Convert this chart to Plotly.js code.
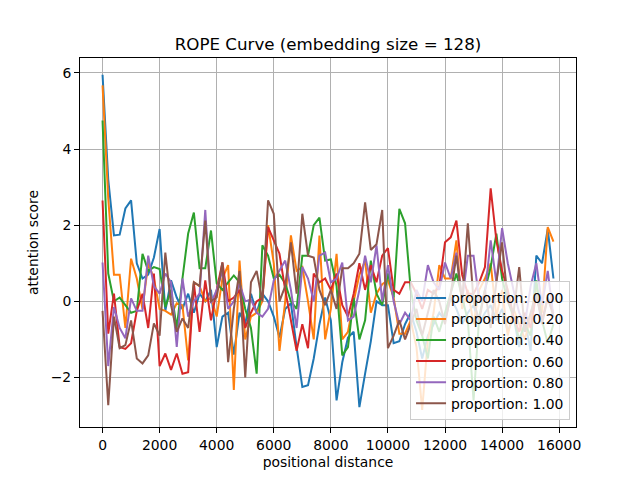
<!DOCTYPE html>
<html>
<head>
<meta charset="utf-8">
<script src="https://cdn.plot.ly/plotly-3.0.1.min.js"></script>
<style>html,body{margin:0;padding:0;background:#fff;}#chart{width:640px;height:480px;}</style>
</head>
<body>
<div id="chart"></div>
<script>
const positions = Array.from({length: 80}, (_, i) => i * 200);
const seriesNames = ["proportion: 0.00","proportion: 0.20","proportion: 0.40","proportion: 0.60","proportion: 0.80","proportion: 1.00"];
const seriesColors = ["#1f77b4","#ff7f0e","#2ca02c","#d62728","#9467bd","#8c564b"];

const p000 = [5.95,3.2,1.73,1.75,2.44,2.65,1.0,0.6,0.7,1.15,1.9,-0.25,0.55,0.1,-0.2,0.2,-0.3,0.2,0.0,0.3,
  -1.2,-0.4,-0.3,-1.4,-0.3,-0.6,0.2,-0.3,0.2,0.0,-0.4,-0.95,-0.2,-0.05,-1.2,-2.25,-2.2,-1.5,-0.6,0.1,
  -0.5,-2.6,-1.6,-0.95,-0.8,-2.78,-1.9,-1.05,0.0,-0.1,-0.1,-1.1,-1.05,-0.6,-0.3,-0.8,-1.5,-0.9,-0.6,-0.3,
  -0.5,0.1,-0.2,-0.6,-0.3,-0.1,-0.6,-0.3,-0.1,-0.5,-0.2,-0.8,-0.4,-1.2,-0.5,-1.3,1.2,1.0,1.9,0.6];
const p020 = [5.67,2.7,0.7,0.7,-0.7,1.12,0.6,-0.2,1.0,0.6,-0.2,-0.25,-0.35,-0.05,-0.1,-1.55,0.5,0.4,0.0,0.1,
  -0.4,0.6,0.95,-2.33,1.07,-1.0,-0.4,-0.3,0.0,2.0,1.0,-1.3,0.0,1.73,0.8,0.9,0.0,-1.0,1.73,-1.0,
  -0.2,1.25,-1.0,-0.8,0.0,0.7,1.07,-0.3,0.2,0.45,0.55,0.1,-0.85,-0.85,-0.5,-1.2,-2.85,-1.0,-0.3,0.95,
  0.6,0.6,1.6,-0.2,0.3,-0.6,0.3,0.6,1.0,-0.4,0.3,-0.9,-0.2,-0.6,-1.0,-0.4,0.4,-0.3,1.95,1.57];
const p040 = [4.75,0.73,0.0,0.1,-0.1,-0.3,-0.25,1.25,0.8,0.9,0.85,-0.15,0.3,-0.7,0.6,1.78,2.33,0.87,0.87,1.86,
  0.47,0.3,0.5,0.68,0.5,-0.2,-0.7,-1.9,1.47,1.2,0.6,0.7,0.47,0.0,-0.2,1.2,1.2,2.0,2.2,1.07,
  1.1,0.4,-1.42,-1.2,0.1,-1.0,-0.5,1.07,0.2,-0.1,0.73,0.1,2.43,2.05,0.3,-0.5,-0.9,-1.5,-0.4,-0.8,
  -0.3,0.2,0.73,0.1,-0.5,-2.6,-0.4,0.3,0.9,1.78,0.6,0.0,-0.4,-1.0,-0.6,-0.9,0.55,-0.5,-1.1,-0.6];
const p060 = [2.65,-0.85,0.2,-1.2,-1.25,-1.1,-0.25,0.2,-0.7,0.73,-1.7,-1.37,-1.8,-1.37,-1.9,-1.86,0.47,-0.8,0.55,-0.5,
  0.3,1.02,0.0,0.1,0.3,-0.7,-0.3,0.0,0.1,1.95,1.6,1.25,0.3,-0.5,-1.3,-0.6,-1.23,0.73,0.5,0.6,
  0.3,0.73,-0.1,-0.4,0.2,1.0,0.3,0.95,0.5,1.2,1.4,0.3,0.2,0.5,0.5,0.2,-0.2,0.3,0.2,0.4,
  1.55,1.68,2.12,0.7,0.2,0.2,0.5,0.9,2.97,1.6,0.8,0.3,-0.4,-0.8,-0.3,-0.7,0.2,-0.5,0.1,-0.3];
const p080 = [1.02,-1.7,-0.15,-0.7,-0.97,0.08,-0.25,-0.25,1.2,0.4,0.2,0.73,0.5,-1.2,0.6,-0.4,0.0,0.2,2.4,-0.05,
  0.3,0.8,-0.2,0.0,0.47,0.0,0.05,-0.3,-0.4,-0.2,0.55,0.8,1.07,0.3,-0.7,0.9,0.6,0.0,1.2,1.28,
  0.5,0.6,1.02,-0.5,-0.4,0.3,1.2,0.5,1.47,0.0,0.95,0.0,-0.6,-0.3,-0.5,0.3,0.0,0.95,0.5,0.3,
  1.02,0.6,1.28,0.0,1.2,1.2,0.0,0.2,1.6,0.5,1.92,1.0,0.3,-0.3,-0.6,0.4,1.0,-0.1,0.8,-0.4];
const p100 = [-0.25,-2.73,-0.4,-1.23,-1.15,-0.5,-1.5,-1.63,-1.42,-0.58,-0.9,1.28,-0.1,-0.8,-0.45,-0.7,0.5,0.4,2.12,0.0,
  0.1,1.02,-1.6,-0.2,0.8,-2.0,0.5,0.8,0.0,2.65,2.3,0.0,0.4,1.55,0.2,2.3,1.2,1.15,0.3,-0.1,
  0.3,-0.2,0.87,0.87,1.0,1.25,2.6,1.35,1.5,2.4,-1.23,-0.9,-0.5,-1.0,-0.6,-0.2,-0.9,-0.3,0.3,0.0,
  -0.6,0.2,1.2,0.0,2.05,0.0,-0.5,0.3,-0.7,0.5,1.55,0.0,-0.3,0.9,-0.8,-0.3,0.2,-0.6,0.1,-0.4];

const xTicks = [0,2000,4000,6000,8000,10000,12000,14000,16000];
const yTicks = [-2,0,2,4,6];

const allSeries = [p000,p020,p040,p060,p080,p100];
const traces = allSeries.map((ys, k) => ({
  x: positions, y: ys, type: 'scatter', mode: 'lines',
  name: seriesNames[k], line: {color: seriesColors[k], width: 2}
}));

const font = {family: 'DejaVu Sans, sans-serif', size: 13.9, color: '#000'};
const axisCommon = {
  showgrid: true, gridcolor: '#b0b0b0', gridwidth: 1,
  zeroline: false, showline: true, linecolor: '#000', linewidth: 1, mirror: true,
  ticks: 'outside', ticklen: 5, tickwidth: 1, tickcolor: '#000',
  tickfont: {family: 'DejaVu Sans, sans-serif', size: 13.9, color: '#000'}
};

const layout = {
  width: 640, height: 480,
  margin: {l: 80, r: 64, t: 58, b: 53},
  paper_bgcolor: '#fff', plot_bgcolor: '#fff',
  font: font,
  title: {text: 'ROPE Curve (embedding size = 128)', x: 0.5, xref: 'paper', y: 1 - 44/480, yref: 'container', yanchor: 'middle',
          font: {family: 'DejaVu Sans, sans-serif', size: 16.7, color: '#000'}},
  xaxis: Object.assign({}, axisCommon, {range: [-790, 16590], tickvals: xTicks, ticktext: xTicks.map(String),
          title: {text: 'positional distance', standoff: 5, font: font}}),
  yaxis: Object.assign({}, axisCommon, {range: [-3.3, 6.39], tickvals: yTicks,
          title: {text: 'attention score', standoff: 8, font: font}}),
  legend: {x: 0.988, xanchor: 'right', y: 0.018, yanchor: 'bottom',
           bgcolor: 'rgba(255,255,255,0.8)', bordercolor: '#cccccc', borderwidth: 1,
           font: {family: 'DejaVu Sans, sans-serif', size: 13.9, color: '#000'}, tracegroupgap: 0, itemwidth: 30},
  showlegend: true
};

Plotly.newPlot('chart', traces, layout, {staticPlot: true, displayModeBar: false});
</script>
</body>
</html>
